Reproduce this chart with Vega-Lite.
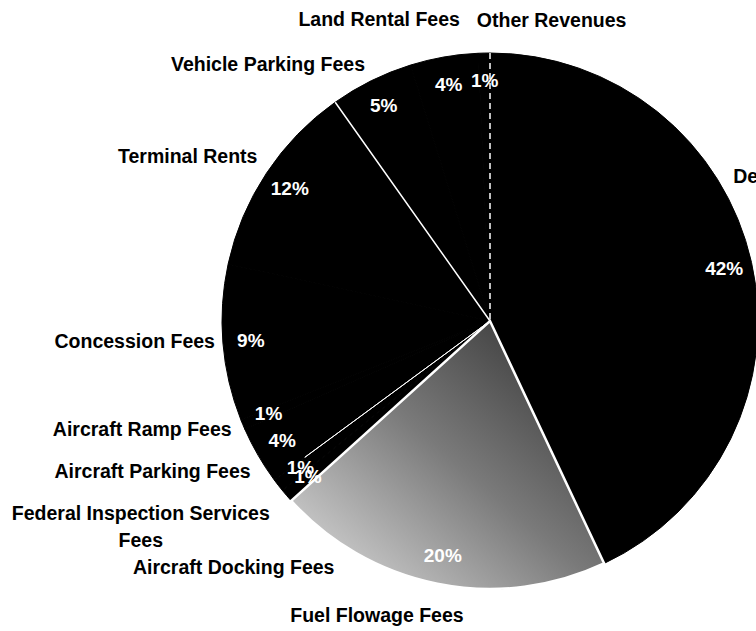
{
  "$schema": "https://vega.github.io/schema/vega-lite/v6.json",
  "autosize": {"type": "none"},
  "width": 532,
  "height": 532,
  "padding": {"left": 224, "top": 55, "right": 0, "bottom": 44},
  "background": "white",
  "config": {"view": {"stroke": null}, "text": {"font": "Liberation Sans", "fontSize": 19.5, "fontWeight": "bold"}},
  "data": {"values": [
    {"idx": 1, "category": "De", "value": 43.0, "pct": "42%"},
    {"idx": 2, "category": "Fuel Flowage Fees", "value": 20.3, "pct": "20%"},
    {"idx": 3, "category": "Aircraft Docking Fees", "value": 0.8, "pct": "1%"},
    {"idx": 4, "category": "Federal Inspection Services\nFees", "value": 0.8, "pct": "1%"},
    {"idx": 5, "category": "Aircraft Parking Fees", "value": 3.5, "pct": "4%"},
    {"idx": 6, "category": "Aircraft Ramp Fees", "value": 0.6, "pct": "1%"},
    {"idx": 7, "category": "Concession Fees", "value": 9.4, "pct": "9%"},
    {"idx": 8, "category": "Terminal Rents", "value": 11.8, "pct": "12%"},
    {"idx": 9, "category": "Vehicle Parking Fees", "value": 5.0, "pct": "5%"},
    {"idx": 10, "category": "Land Rental Fees", "value": 4.1, "pct": "4%"},
    {"idx": 11, "category": "Other Revenues", "value": 0.7, "pct": "1%"}
  ]},
  "transform": [
    {"stack": "value", "groupby": [], "sort": [{"field": "idx", "order": "ascending"}], "as": ["t0", "t1"]}
  ],
  "layer": [
    {
      "mark": {"type": "arc", "outerRadius": 268, "color": "black", "stroke": "black", "strokeWidth": 1},
      "encoding": {
        "theta": {"field": "t0", "type": "quantitative", "stack": null, "scale": {"domain": [0, 100]}},
        "theta2": {"field": "t1"}
      }
    },
    {
      "transform": [{"filter": "datum.idx === 2"}],
      "mark": {"type": "arc", "outerRadius": 268, "stroke": "white", "strokeWidth": 2.5,
        "fill": {"gradient": "linear", "x1": 1, "y1": 0, "x2": 0, "y2": 1,
          "stops": [{"offset": 0, "color": "#2a2a2a"}, {"offset": 0.5, "color": "#7a7a7a"}, {"offset": 1, "color": "#e2e2e2"}]}},
      "encoding": {
        "theta": {"field": "t0", "type": "quantitative", "stack": null, "scale": {"domain": [0, 100]}},
        "theta2": {"field": "t1"}
      }
    },
    {
      "transform": [{"filter": "datum.idx === 8"}],
      "mark": {"type": "arc", "outerRadius": 268, "stroke": "white", "strokeWidth": 1.5, "fill": null},
      "encoding": {
        "theta": {"field": "t1", "type": "quantitative", "stack": null, "scale": {"domain": [0, 100]}},
        "theta2": {"field": "t1"}
      }
    },
    {
      "transform": [{"filter": "datum.idx === 4"}],
      "mark": {"type": "arc", "outerRadius": 230, "stroke": "white", "strokeWidth": 1, "fill": null},
      "encoding": {
        "theta": {"field": "t1", "type": "quantitative", "stack": null, "scale": {"domain": [0, 100]}},
        "theta2": {"field": "t1"}
      }
    },
    {
      "transform": [{"filter": "datum.idx === 11"}],
      "mark": {"type": "arc", "outerRadius": 268, "stroke": "white", "strokeWidth": 1, "strokeDash": [6, 4], "fill": null},
      "encoding": {
        "theta": {"field": "t1", "type": "quantitative", "stack": null, "scale": {"domain": [0, 100]}},
        "theta2": {"field": "t1"}
      }
    },
    {
      "mark": {"type": "text", "radius": 240, "align": "center", "baseline": "middle", "color": "white", "fontSize": 19},
      "encoding": {
        "theta": {"field": "value", "type": "quantitative", "stack": true, "scale": {"domain": [0, 100]}},
        "order": {"field": "idx", "type": "quantitative"},
        "text": {"field": "pct", "type": "nominal"}
      }
    },
    {
      "mark": {"type": "text", "radius": 280, "align": "left", "baseline": "middle", "dx": -30, "dy": -83, "color": "black"},
      "encoding": {
        "theta": {"field": "value", "type": "quantitative", "stack": true, "scale": {"domain": [0, 100]}},
        "order": {"field": "idx", "type": "quantitative"},
        "text": {"condition": {"test": "datum.idx === 1", "field": "category", "type": "nominal"}, "value": ""}
      }
    },
    {
      "mark": {"type": "text", "radius": 280, "align": "center", "baseline": "middle", "dx": -58, "dy": 20, "color": "black"},
      "encoding": {
        "theta": {"field": "value", "type": "quantitative", "stack": true, "scale": {"domain": [0, 100]}},
        "order": {"field": "idx", "type": "quantitative"},
        "text": {"condition": {"test": "datum.idx === 2", "field": "category", "type": "nominal"}, "value": ""}
      }
    },
    {
      "mark": {"type": "text", "radius": 280, "align": "center", "baseline": "middle", "dx": -44, "dy": 64, "color": "black"},
      "encoding": {
        "theta": {"field": "value", "type": "quantitative", "stack": true, "scale": {"domain": [0, 100]}},
        "order": {"field": "idx", "type": "quantitative"},
        "text": {"condition": {"test": "datum.idx === 3", "field": "category", "type": "nominal"}, "value": ""}
      }
    },
    {
      "mark": {"type": "text", "radius": 280, "align": "center", "baseline": "middle", "dx": -128, "dy": 21, "color": "black", "lineBreak": "\n", "lineHeight": 27},
      "encoding": {
        "theta": {"field": "value", "type": "quantitative", "stack": true, "scale": {"domain": [0, 100]}},
        "order": {"field": "idx", "type": "quantitative"},
        "text": {"condition": {"test": "datum.idx === 4", "field": "category", "type": "nominal"}, "value": ""}
      }
    },
    {
      "mark": {"type": "text", "radius": 280, "align": "right", "baseline": "middle", "dx": 3, "dy": 11, "color": "black"},
      "encoding": {
        "theta": {"field": "value", "type": "quantitative", "stack": true, "scale": {"domain": [0, 100]}},
        "order": {"field": "idx", "type": "quantitative"},
        "text": {"condition": {"test": "datum.idx === 5", "field": "category", "type": "nominal"}, "value": ""}
      }
    },
    {
      "mark": {"type": "text", "radius": 280, "align": "right", "baseline": "middle", "dx": 0, "dy": 1, "color": "black"},
      "encoding": {
        "theta": {"field": "value", "type": "quantitative", "stack": true, "scale": {"domain": [0, 100]}},
        "order": {"field": "idx", "type": "quantitative"},
        "text": {"condition": {"test": "datum.idx === 6", "field": "category", "type": "nominal"}, "value": ""}
      }
    },
    {
      "mark": {"type": "text", "radius": 276, "align": "right", "baseline": "middle", "dx": 0, "dy": -2, "color": "black"},
      "encoding": {
        "theta": {"field": "value", "type": "quantitative", "stack": true, "scale": {"domain": [0, 100]}},
        "order": {"field": "idx", "type": "quantitative"},
        "text": {"condition": {"test": "datum.idx === 7", "field": "category", "type": "nominal"}, "value": ""}
      }
    },
    {
      "mark": {"type": "text", "radius": 280, "align": "right", "baseline": "middle", "dx": 1, "dy": -10, "color": "black"},
      "encoding": {
        "theta": {"field": "value", "type": "quantitative", "stack": true, "scale": {"domain": [0, 100]}},
        "order": {"field": "idx", "type": "quantitative"},
        "text": {"condition": {"test": "datum.idx === 8", "field": "category", "type": "nominal"}, "value": ""}
      }
    },
    {
      "mark": {"type": "text", "radius": 280, "align": "right", "baseline": "middle", "dx": -1, "dy": -5, "color": "black"},
      "encoding": {
        "theta": {"field": "value", "type": "quantitative", "stack": true, "scale": {"domain": [0, 100]}},
        "order": {"field": "idx", "type": "quantitative"},
        "text": {"condition": {"test": "datum.idx === 9", "field": "category", "type": "nominal"}, "value": ""}
      }
    },
    {
      "mark": {"type": "text", "radius": 280, "align": "right", "baseline": "middle", "dx": 18, "dy": -25, "color": "black"},
      "encoding": {
        "theta": {"field": "value", "type": "quantitative", "stack": true, "scale": {"domain": [0, 100]}},
        "order": {"field": "idx", "type": "quantitative"},
        "text": {"condition": {"test": "datum.idx === 10", "field": "category", "type": "nominal"}, "value": ""}
      }
    },
    {
      "mark": {"type": "text", "radius": 280, "align": "left", "baseline": "middle", "dx": -7, "dy": -20, "color": "black"},
      "encoding": {
        "theta": {"field": "value", "type": "quantitative", "stack": true, "scale": {"domain": [0, 100]}},
        "order": {"field": "idx", "type": "quantitative"},
        "text": {"condition": {"test": "datum.idx === 11", "field": "category", "type": "nominal"}, "value": ""}
      }
    }
  ]
}
